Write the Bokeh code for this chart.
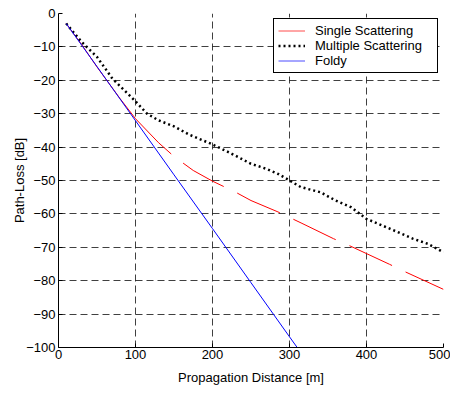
from bokeh.plotting import figure
from bokeh.models import Range1d, FixedTicker, Legend, LegendItem
from bokeh.embed import file_html
from bokeh.resources import INLINE

# Data
single_x = [10, 30, 50, 80, 100, 130, 150, 175, 200, 230, 250, 285, 315, 357, 375, 430, 448, 500]
single_y = [-3, -9.3, -16, -25.5, -31.5, -38.7, -42.8, -47, -50.2, -53.5, -56, -59.4, -62.7, -67.4, -69.2, -75.1, -77.1, -82.6]

multi_x = [10, 30, 50, 70, 90, 100, 115, 130, 150, 170, 200, 225, 250, 270, 285, 300, 315, 340, 360, 380, 400, 430, 460, 480, 500]
multi_y = [-3, -8.5, -13, -19.5, -24, -26.3, -30, -32, -33.8, -36.3, -39.2, -42, -45, -46.5, -48, -50, -52, -53.5, -56, -58, -61.5, -64.4, -67.4, -69, -71.5]

foldy_x = [10, 50, 100, 150, 200, 250, 300, 310]
foldy_y = [-3, -15.9, -32.1, -48.3, -64.4, -80.6, -96.8, -100]

x_ticks = [0, 100, 200, 300, 400, 500]
y_ticks = [-100, -90, -80, -70, -60, -50, -40, -30, -20, -10, 0]

FONT = "Liberation Sans"

p = figure(width=450, height=387, output_backend="svg", toolbar_location=None,
           x_range=Range1d(0, 500), y_range=Range1d(-100, 0),
           min_border_left=58, min_border_right=7, min_border_top=13, min_border_bottom=40)
p.outline_line_color = None
p.background_fill_color = "white"
p.border_fill_color = "white"

for ax in (p.xaxis[0], p.yaxis[0]):
    ax.axis_line_color = "black"
    ax.major_tick_in = 4
    ax.major_tick_out = 0
    ax.minor_tick_line_color = None
    ax.major_tick_line_color = "black"
    ax.major_label_text_font = FONT
    ax.major_label_text_font_size = "13px"
    ax.major_label_text_color = "black"
    ax.axis_label_text_font = FONT
    ax.axis_label_text_font_size = "13px"
    ax.axis_label_text_font_style = "normal"
    ax.axis_label_text_color = "black"

p.xaxis.ticker = FixedTicker(ticks=x_ticks)
p.yaxis.ticker = FixedTicker(ticks=y_ticks)
p.xaxis.axis_label = "Propagation Distance [m]"
p.yaxis.axis_label = "Path-Loss [dB]"
p.xaxis.major_label_standoff = 2
p.yaxis.major_label_standoff = 3
p.xaxis.axis_label_standoff = 8
p.yaxis.axis_label_standoff = -4

for g in (p.xgrid[0], p.ygrid[0]):
    g.grid_line_color = "black"
    g.grid_line_alpha = 0.75
    g.grid_line_dash = "7 4"
    g.grid_line_width = 1

r_single = p.line(single_x, single_y, line_color="red", line_width=1,
                  line_dash="168 15 47 15 47 15 47 15 47 15 47 15 47 15")
r_multi = p.line(multi_x, multi_y, line_color="black", line_width=2.5,
                 line_dash="2 3")
r_foldy = p.line(foldy_x, foldy_y, line_color="blue", line_width=1)

# legend-only proxies (solid samples)
r_single_leg = p.line([None], [None], line_color="red", line_width=1, line_alpha=0.7)
r_foldy_leg = p.line([None], [None], line_color="blue", line_width=1, line_alpha=0.7)

legend = Legend(items=[
    LegendItem(label="Single Scattering", renderers=[r_single_leg]),
    LegendItem(label="Multiple Scattering", renderers=[r_multi]),
    LegendItem(label="Foldy", renderers=[r_foldy_leg]),
], location="top_right")
legend.margin = 5
legend.padding = 4
legend.spacing = 0
legend.label_height = 15
legend.glyph_height = 15
legend.glyph_width = 27
legend.label_standoff = 10
legend.label_width = 118
legend.label_text_font = FONT
legend.label_text_font_size = "13px"
legend.label_text_color = "black"
legend.border_line_color = "black"
legend.border_line_width = 1
legend.border_line_alpha = 1
legend.background_fill_color = "white"
legend.background_fill_alpha = 1
p.add_layout(legend)

open("out.html", "w").write(file_html(p, INLINE))
